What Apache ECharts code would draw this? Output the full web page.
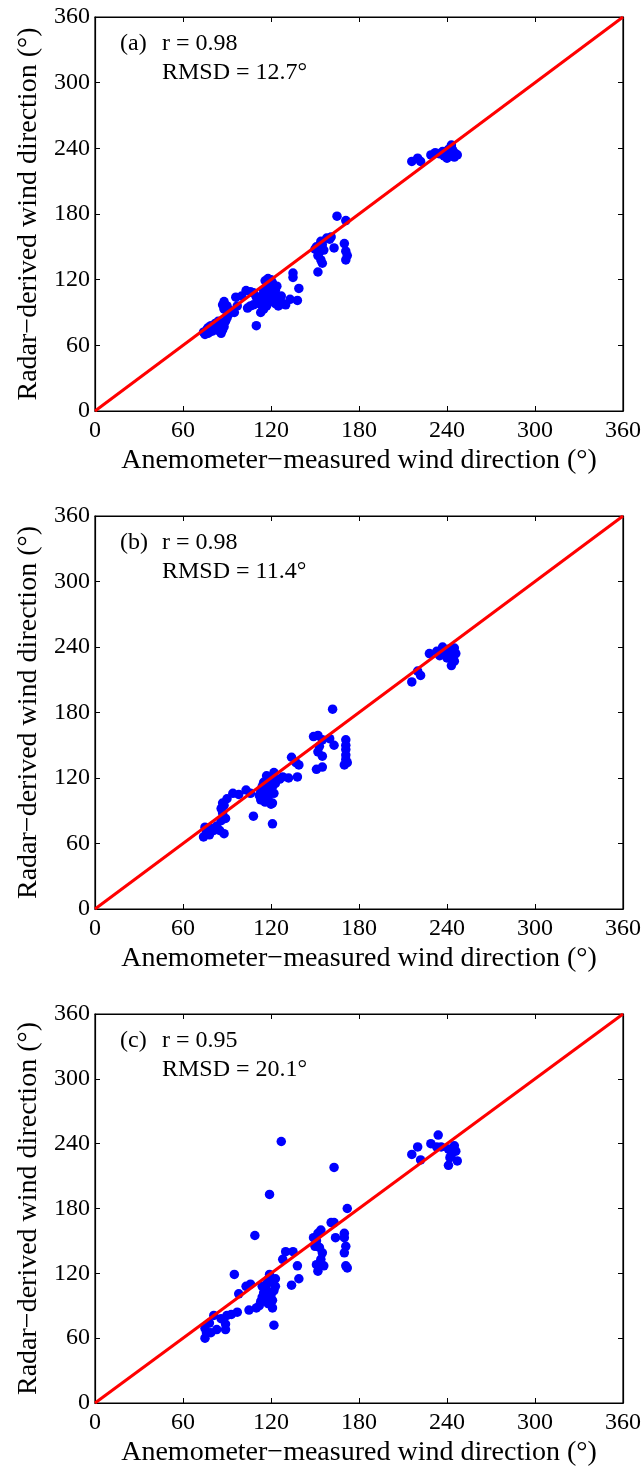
<!DOCTYPE html>
<html>
<head>
<meta charset="utf-8">
<script src="https://cdn.jsdelivr.net/npm/echarts@6/dist/echarts.min.js"></script>
<style>
html,body{margin:0;padding:0;background:#fff;}
#chart{width:644px;height:1470px;}
</style>
</head>
<body>
<div id="chart"></div>
<script>
// ---- data ----
const ticks = [0, 60, 120, 180, 240, 300, 360];
const panelLabels = ['(a)', '(b)', '(c)'];
const rValues = ['r = 0.98', 'r = 0.98', 'r = 0.95'];
const rmsdValues = ['RMSD = 12.7°', 'RMSD = 11.4°', 'RMSD = 20.1°'];
const xTitle = 'Anemometer\u2212measured wind direction (°)';
const yTitle = 'Radar\u2212derived wind direction (°)';
const oneToOne = [[0, 0], [360, 360]];

const dataA = [
  [75,70],[76,74],[77,76],[78,72],[79,78],[80,75],[81,77],[82,80],[83,76],[84,78],[85,73],[86,71],[87,74],[88,77],
  [89,82],[90,85],[88,93],[87,97],[88,100],[90,96],[92,92],[91,88],[86,80],[84,82],[80,73],[77,71],[74,72],
  [95,90],[97,96],[96,104],[100,105],[103,110],[106,109],[108,108],[104,94],[110,78],[106,96],[112,100],
  [112,98],[113,102],[114,106],[115,110],[116,105],[117,112],[118,115],[119,118],[120,120],[121,117],[122,112],
  [118,108],[116,100],[115,93],[117,96],[119,100],[120,104],[121,108],[122,103],[123,110],[124,114],[123,98],
  [125,96],[126,102],[127,105],[128,98],[130,97],[133,102],[138,101],[139,112],[135,122],[135,126],[113,90],
  [114,96],[110,104],[108,97],[118,121],[116,119],
  [150,148],[151,150],[152,142],[153,145],[154,138],[155,152],[154,155],[156,147],[155,135],[152,127],[158,158],
  [160,157],[161,159],[163,149],[165,178],[171,174],[170,153],[171,146],[172,142],[171,138],
  [216,228],[220,231],[222,228],[229,234],[232,236],[235,235],[237,237],[238,233],[240,236],[241,239],[242,234],
  [243,241],[244,238],[245,232],[246,235],[247,234],[240,231],[243,243]
];

const dataB = [
  [75,75],[77,71],[74,66],[78,68],[81,72],[76,70],[79,74],[83,76],[85,72],[88,69],[86,81],[89,83],[87,88],[86,92],
  [87,97],[90,101],[88,95],[94,106],[98,105],[103,109],[106,106],[108,85],[121,78],
  [112,104],[113,108],[114,112],[115,116],[116,110],[117,122],[118,118],[119,114],[120,120],[121,112],[122,106],
  [118,102],[116,98],[114,100],[117,104],[119,108],[120,96],[121,97],[122,118],[123,115],[115,104],[113,100],
  [122,125],[126,119],[128,121],[132,120],[138,121],[134,139],[137,134],[139,132],
  [149,158],[152,159],[155,155],[153,149],[155,140],[152,144],[151,128],[155,130],[160,156],[163,150],[162,183],
  [171,155],[171,150],[171,146],[171,141],[171,137],[172,134],[170,132],
  [216,208],[220,218],[222,214],[228,234],[233,236],[237,240],[241,238],[245,239],[246,234],[243,223],[245,227],
  [240,230],[242,232],[238,236],[244,231],[235,232]
];

const dataC = [
  [75,60],[76,65],[75,69],[78,74],[81,81],[79,65],[83,68],[86,78],[89,68],[89,73],[90,81],[93,82],[97,84],
  [95,119],[98,101],[103,108],[106,110],[105,86],[110,88],[109,155],[122,72],
  [112,90],[113,94],[114,98],[115,102],[116,106],[117,110],[118,114],[119,117],[120,100],[121,95],[122,104],
  [123,108],[120,112],[118,92],[116,96],[119,119],[121,88],[123,115],[117,104],[114,108],
  [119,193],[127,242],[130,140],[135,140],[128,133],[138,127],[139,115],[134,109],
  [154,160],[152,157],[149,153],[151,150],[153,144],[155,139],[154,133],[151,128],[156,127],[152,122],[150,145],
  [161,167],[163,167],[164,153],[163,218],[172,180],
  [170,157],[170,153],[171,145],[170,139],[171,127],[172,125],
  [216,230],[220,237],[222,225],[229,240],[234,248],[233,237],[236,237],[241,235],[245,238],[246,233],[247,224],
  [241,220],[242,227],[243,230]
];

const panels = [dataA, dataB, dataC];
const gridTops = [17, 516, 1014];
const gridHeights = [394, 393, 389];

// ---- build option ----
const FONT = "'Liberation Serif','Times New Roman',serif";
const grids = [], xAxes = [], yAxes = [], series = [], graphics = [];

panels.forEach((data, i) => {
  grids.push({left: 95, top: gridTops[i], width: 528, height: gridHeights[i],
    show: true, borderColor: '#000', borderWidth: 1.2, backgroundColor: '#fff'});
  const base = {
    gridIndex: i, type: 'value', min: 0, max: 360, interval: 60,
    splitLine: {show: false},
    axisLine: {show: true, onZero: false, lineStyle: {color: '#000', width: 1.2}},
    axisTick: {show: true, inside: true, length: 5, lineStyle: {color: '#000', width: 1}},
  };
  xAxes.push(Object.assign({}, base, {
    position: 'bottom',
    axisLabel: {show: true, color: '#000', fontFamily: FONT, fontSize: 24, margin: 8,
      formatter: v => ticks.includes(v) ? String(v) : ''},
    name: xTitle, nameLocation: 'middle', nameGap: 36,
    nameTextStyle: {color: '#000', fontFamily: FONT, fontSize: 28}
  }));
  xAxes.push(Object.assign({}, base, {position: 'top', axisLabel: {show: false}}));
  yAxes.push(Object.assign({}, base, {
    position: 'left',
    axisLabel: {show: true, color: '#000', fontFamily: FONT, fontSize: 24, margin: 5,
      formatter: v => ticks.includes(v) ? String(v) : ''},
    name: yTitle, nameLocation: 'middle', nameGap: 52,
    nameTextStyle: {color: '#000', fontFamily: FONT, fontSize: 28}
  }));
  yAxes.push(Object.assign({}, base, {position: 'right', axisLabel: {show: false}}));

  series.push({
    type: 'scatter', xAxisIndex: 2 * i, yAxisIndex: 2 * i, data: data,
    symbol: 'circle', symbolSize: 9.5, itemStyle: {color: '#0000ff', opacity: 1},
    silent: true, z: 2
  });
  series.push({
    type: 'line', xAxisIndex: 2 * i, yAxisIndex: 2 * i, data: oneToOne,
    symbol: 'none', lineStyle: {color: '#ff0000', width: 3}, silent: true, z: 3
  });

  const off = gridTops[i] - 17;
  graphics.push({type: 'text', left: 120, top: 45 + off - 13,
    style: {text: panelLabels[i], font: '24px ' + FONT, fill: '#000'}});
  graphics.push({type: 'text', left: 162, top: 45 + off - 13,
    style: {text: rValues[i], font: '24px ' + FONT, fill: '#000'}});
  graphics.push({type: 'text', left: 162, top: 74 + off - 13,
    style: {text: rmsdValues[i], font: '24px ' + FONT, fill: '#000'}});
});

const chart = echarts.init(document.getElementById('chart'), null, {renderer: 'canvas'});
chart.setOption({
  animation: false,
  backgroundColor: '#fff',
  grid: grids, xAxis: xAxes, yAxis: yAxes, series: series, graphic: graphics
});
</script>
</body>
</html>
